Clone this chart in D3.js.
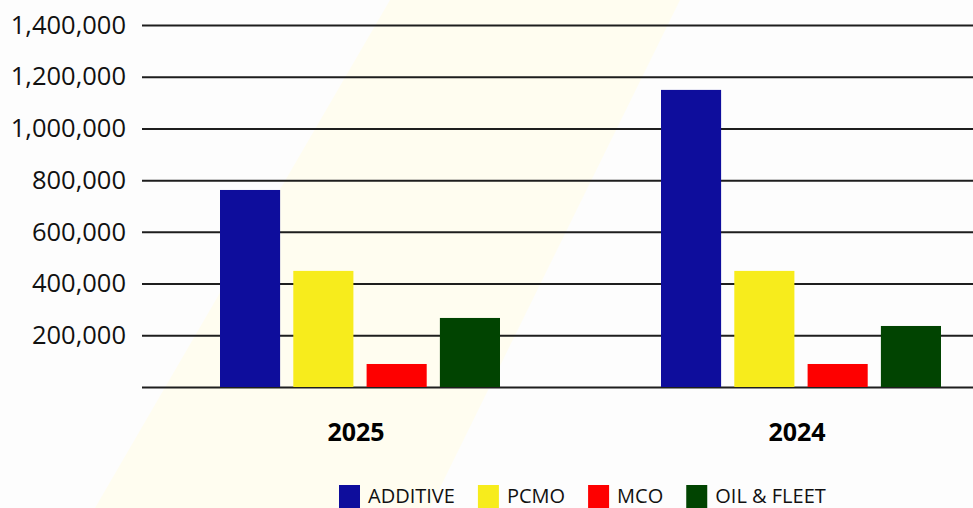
<!DOCTYPE html>
<html>
<head>
<meta charset="utf-8">
<script src="https://cdn.jsdelivr.net/npm/d3@7"></script>
<style>
  html, body { margin: 0; padding: 0; background: #fdfdfd; overflow: hidden; }
  svg { display: block; font-family: "Open Sans", sans-serif; }
</style>
</head>
<body>
<div id="chart"></div>
<script>
////////////////////////////// Data //////////////////////////////
const years = ["2025", "2024"];
const series = ["ADDITIVE", "PCMO", "MCO", "OIL & FLEET"];
const additive = [762000, 1149000];
const pcmo = [449000, 449000];
const mco = [89000, 89000];
const oilFleet = [267000, 236000];
const yTicks = [0, 200000, 400000, 600000, 800000, 1000000, 1200000, 1400000];
const colors = ["#0e0d9c", "#f7ec1c", "#fe0000", "#014401"];

const values = [additive, pcmo, mco, oilFleet];
const rows = years.map((y, i) => ({ year: y, vals: series.map((s, j) => ({ key: s, idx: j, value: values[j][i] })) }));

////////////////////////////// Set-up //////////////////////////////
const W = 973, H = 508;
const margin = { left: 142, top: 25 };
const plotBottom = 387;

const svg = d3.select("#chart").append("svg")
  .attr("width", W)
  .attr("height", H);

// faint diagonal band in the background
svg.append("polygon")
  .attr("points", "390,0 680,0 430,508 95,508")
  .attr("fill", "#fffdf0");

const y = d3.scaleLinear()
  .domain([0, 1400000])
  .range([plotBottom, margin.top]);

const x0 = d3.scaleBand()
  .domain(years)
  .range([139.5, 1021.5])
  .paddingInner(0)
  .paddingOuter(0);

const x1 = d3.scaleBand()
  .domain(series)
  .range([80.5, 360.5])
  .paddingInner(0.18)
  .paddingOuter(0);

const color = d3.scaleOrdinal().domain(series).range(colors);

////////////////////////////// Gridlines + y axis //////////////////////////////
const yAxis = svg.append("g")
  .attr("transform", "translate(" + margin.left + ",0)")
  .call(d3.axisLeft(y)
    .tickValues(yTicks)
    .tickSize(-(W - margin.left))
    .tickPadding(16)
    .tickFormat(d => d === 0 ? "" : d3.format(",")(d)));

yAxis.select(".domain").remove();
yAxis.selectAll(".tick line")
  .attr("stroke", "#1e1e1e")
  .attr("stroke-width", 2);
yAxis.selectAll(".tick text")
  .attr("fill", "#111")
  .style("font-size", "25.5px")
  .style("font-family", "'Open Sans', sans-serif");

////////////////////////////// Bars //////////////////////////////
const groups = svg.selectAll("g.year")
  .data(rows)
  .enter().append("g")
  .attr("class", "year")
  .attr("transform", d => "translate(" + x0(d.year) + ",0)");

groups.selectAll("rect")
  .data(d => d.vals)
  .enter().append("rect")
  .attr("x", d => x1(d.key))
  .attr("y", d => y(d.value))
  .attr("width", x1.bandwidth())
  .attr("height", d => y(0) - y(d.value))
  .attr("fill", d => color(d.key));

// category labels
groups.append("text")
  .attr("x", x0.bandwidth() / 2 - 4)
  .attr("y", 441)
  .attr("text-anchor", "middle")
  .style("font-size", "25px")
  .style("font-weight", "bold")
  .attr("fill", "#000")
  .text(d => d.year);

////////////////////////////// Legend //////////////////////////////
const legend = svg.append("g")
  .attr("transform", "translate(339,485)");

let lx = 0;
series.forEach((s, i) => {
  const item = legend.append("g").attr("transform", "translate(" + lx + ",0)");
  item.append("rect")
    .attr("width", 21)
    .attr("height", 23)
    .attr("fill", color(s));
  const t = item.append("text")
    .attr("x", 29)
    .attr("y", 18)
    .style("font-size", "20px")
    .attr("fill", "#111")
    .text(s);
  lx += 29 + t.node().getComputedTextLength() + 23;
});
</script>
</body>
</html>
